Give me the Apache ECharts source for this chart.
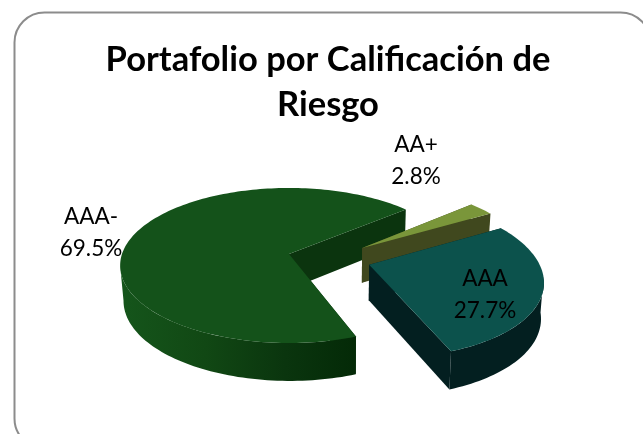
<!DOCTYPE html>
<html>
<head>
<meta charset="utf-8">
<style>html,body{margin:0;padding:0;background:#fff;overflow:hidden}#chart{width:643px;height:434px}</style>
<script src="https://cdn.jsdelivr.net/npm/echarts@6/dist/echarts.min.js"></script>
</head>
<body>
<div id="chart"></div>
<script>
// Portfolio split by risk rating, in drawing order (back to front)
const categories = ['AAA-', 'AA+', 'AAA'];
const shares = [69.5, 2.8, 27.7];
const titleText = 'Portafolio por Calificación de\nRiesgo';

// Look of each slice: top face, radial walls, outer wall
const topColors = ['#14521a', '#7a963a', '#0c524c'];
const wallColors = ['#0b340e', '#40481e', '#031f20'];

// Projection of the tilted disc onto the page
const cx = 289, cy = 254, rx = 167, ry = 75.8, persp = 0.148, depth = 35, vanishX = 345;
const startAngle = 69.8;
// Ground-plane displacement of the pulled-out slices
const pull = [[0, 0], [0.443, -0.08], [0.47, 0.14]];
// Label centres
const labelAt = [[91, 233], [416, 161], [485, 295]];

function project(u, v) {
  const w = 1 - persp * v;
  return { x: cx + rx * u / w, y: cy + ry * v / w, w };
}
function topPoint(u, v) {
  const p = project(u, v);
  return [p.x, p.y];
}
function basePoint(u, v) {
  const p = project(u, v);
  return [p.x + (vanishX - p.x) * 0.015, p.y + depth * Math.pow(p.w, -0.5)];
}
function ground(deg, off) {
  const a = deg * Math.PI / 180;
  return [Math.cos(a) + off[0], Math.sin(a) + off[1]];
}
function arc(from, to, off, fn) {
  const pts = [];
  const n = Math.max(2, Math.ceil(Math.abs(to - from) / 1.5));
  for (let i = 0; i <= n; i++) {
    const g = ground(from + (to - from) * i / n, off);
    pts.push(fn(g[0], g[1]));
  }
  return pts;
}
function face(points, fill) {
  return { type: 'polygon', shape: { points }, style: { fill } };
}

const total = shares.reduce((a, b) => a + b, 0);
const spans = [];
shares.reduce((acc, v) => {
  const sweep = v / total * 360;
  spans.push([acc, acc + sweep]);
  return acc + sweep;
}, startAngle);

function renderSlice(params, api) {
  const i = api.value(0);
  const value = api.value(1);
  const [a0, a1] = spans[i];
  const off = pull[i];
  const children = [];

  // Two radial walls behind the top face
  [a0, a1].forEach(function (a) {
    const e = ground(a, off);
    children.push(face([
      topPoint(off[0], off[1]), topPoint(e[0], e[1]),
      basePoint(e[0], e[1]), basePoint(off[0], off[1])
    ], wallColors[i]));
  });

  // Outer rim: only the arc between the two silhouette tangents faces the viewer
  const ranges = [[8.5, 171.5], [368.5, 531.5]];
  ranges.forEach(function (r) {
    const from = Math.max(a0, r[0]), to = Math.min(a1, r[1]);
    if (to <= from) return;
    const up = arc(from, to, off, topPoint);
    const low = arc(from, to, off, basePoint);
    const fill = i === 0
      ? new echarts.graphic.LinearGradient(123, 0, 355, 0, [
          { offset: 0, color: '#15551b' },
          { offset: 0.35, color: '#114814' },
          { offset: 0.7, color: '#0a350e' },
          { offset: 1, color: '#042a07' }
        ], true)
      : wallColors[i];
    children.push(face(up.concat(low.reverse()), fill));
  });

  // Top face
  const rim = arc(a0, a1, off, topPoint);
  children.push(face([topPoint(off[0], off[1])].concat(rim), topColors[i]));

  // Category and share
  children.push({
    type: 'text',
    x: labelAt[i][0],
    y: labelAt[i][1],
    style: {
      text: categories[i] + '\n' + value.toFixed(1) + '%',
      fill: '#000',
      font: '22.5px Lato',
      lineHeight: 32,
      align: 'center',
      verticalAlign: 'middle'
    }
  });
  return { type: 'group', children };
}

const chart = echarts.init(document.getElementById('chart'), null, { renderer: 'canvas' });
chart.setOption({
  animation: false,
  backgroundColor: '#fff',
  title: {
    text: titleText,
    left: 323,
    top: 32,
    textAlign: 'center',
    textStyle: { fontFamily: 'Lato', fontWeight: 'bold', fontSize: 34.5, lineHeight: 45, color: '#000' }
  },
  graphic: [{
    type: 'rect',
    silent: true,
    shape: { x: 14.5, y: 12.5, width: 636, height: 436, r: 30 },
    style: { fill: 'none', stroke: '#8c8c8c', lineWidth: 2 }
  }],
  series: [{
    type: 'custom',
    coordinateSystem: 'none',
    silent: true,
    renderItem: renderSlice,
    data: shares.map((v, i) => [i, v])
  }]
});
</script>
</body>
</html>
